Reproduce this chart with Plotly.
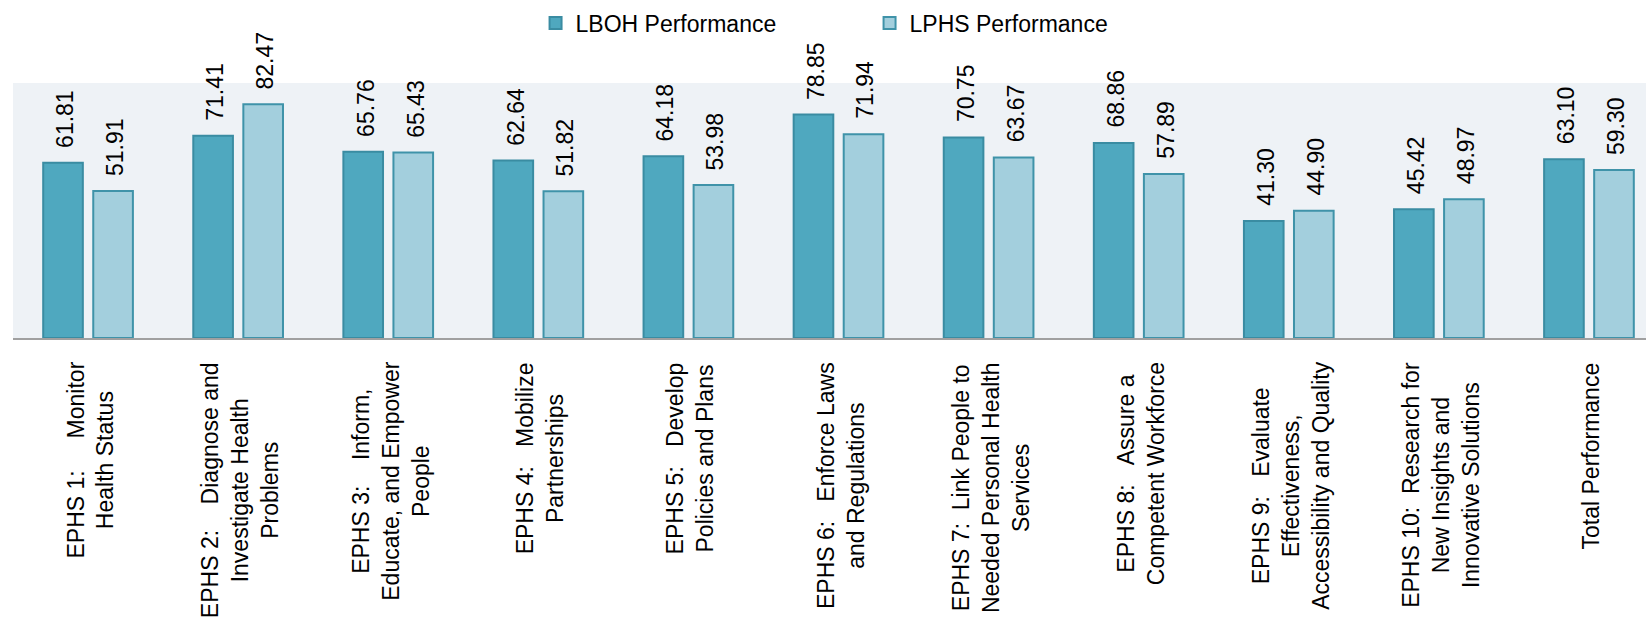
import plotly.graph_objects as go

NB = "\u00a0"

categories = [
    "EPHS 1:" + NB * 5 + "Monitor<br>Health Status",
    "EPHS 2:" + NB * 4 + "Diagnose and<br>Investigate Health<br>Problems",
    "EPHS 3:" + NB * 4 + "Inform,<br>Educate, and Empower<br>People",
    "EPHS 4:" + NB * 3 + "Mobilize<br>Partnerships",
    "EPHS 5:" + NB * 3 + "Develop<br>Policies and Plans",
    "EPHS 6:" + NB * 3 + "Enforce Laws<br>and Regulations",
    "EPHS 7:" + NB * 2 + "Link People to<br>Needed Personal Health<br>Services",
    "EPHS 8:" + NB * 3 + "Assure a<br>Competent Workforce",
    "EPHS 9:" + NB * 3 + "Evaluate<br>Effectiveness,<br>Accessibility and Quality",
    "EPHS 10:" + NB * 2 + "Research for<br>New Insights and<br>Innovative Solutions",
    "Total Performance",
]

lboh = [61.81, 71.41, 65.76, 62.64, 64.18, 78.85, 70.75, 68.86, 41.30, 45.42, 63.10]
lphs = [51.91, 82.47, 65.43, 51.82, 53.98, 71.94, 63.67, 57.89, 44.90, 48.97, 59.30]

series_names = ["LBOH Performance", "LPHS Performance"]

FONT = "Liberation Sans, Arial, sans-serif"
FS = 23
BARGAP = 0.333
BARGROUPGAP = 0.208

fig = go.Figure()
fig.add_trace(go.Bar(
    x=categories, y=lboh, name=series_names[0],
    marker=dict(color="#4FA8BF", line=dict(color="#3A8CA2", width=2)),
))
fig.add_trace(go.Bar(
    x=categories, y=lphs, name=series_names[1],
    marker=dict(color="#A3CFDD", line=dict(color="#3F93A9", width=2)),
))

annotations = []
off = (1 - BARGAP) / 4
for i, (a, b) in enumerate(zip(lboh, lphs)):
    for xv, yv in ((i - off, a), (i + off, b)):
        annotations.append(dict(
            x=xv, y=yv, xref="x", yref="y", text=f"{yv:.2f}",
            showarrow=False, textangle=-90, yanchor="bottom", xanchor="center",
            yshift=13, xshift=2, font=dict(family=FONT, size=FS, color="#000000"),
        ))
# category labels (centered multi-line, rotated)
for i, c in enumerate(categories):
    annotations.append(dict(
        x=i, y=0, xref="x", yref="y", text=c, showarrow=False, textangle=-90,
        yanchor="top", xanchor="center", align="center", yshift=-22, xshift=2,
        font=dict(family=FONT, size=FS, color="#000000"),
    ))

fig.update_layout(
    width=1646, height=625,
    margin=dict(l=13, r=0, t=83, b=287),
    paper_bgcolor="#FFFFFF",
    plot_bgcolor="#EEF2F6",
    barmode="group", bargap=BARGAP, bargroupgap=BARGROUPGAP,
    font=dict(family=FONT, size=FS, color="#000000"),
    showlegend=True,
    legend=dict(
        orientation="h", x=0.32, xanchor="left", y=1.235, yanchor="middle",
        font=dict(family=FONT, size=23, color="#000000"),
        entrywidth=289, bgcolor="rgba(0,0,0,0)",
    ),
    annotations=annotations,
)
fig.update_xaxes(
    type="category", range=[-0.5, 10.38], showticklabels=False, ticks="",
    showline=True, linecolor="#A0A0A0", linewidth=2, showgrid=False, zeroline=False,
)
fig.update_yaxes(
    range=[0, 90], showticklabels=False, ticks="", showgrid=False, zeroline=False,
    showline=False,
)

fig.write_html("out.html")
